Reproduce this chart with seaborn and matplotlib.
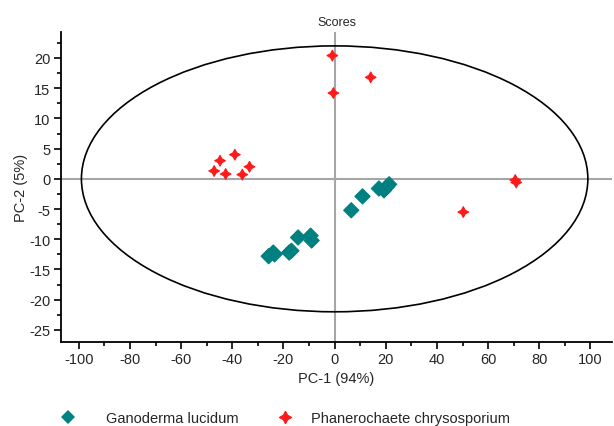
import numpy as np
import pandas as pd
import matplotlib
matplotlib.use("Agg")
import matplotlib.pyplot as plt
from matplotlib.patches import Ellipse
from matplotlib.lines import Line2D
import seaborn as sns

groups = ["Ganoderma lucidum", "Phanerochaete chrysosporium"]

gl_pc1 = [6.5, 10.9, 17.3, 19.3, 21.3, 20.5, -14.3, -9.4, -9.0, -17.8, -16.9, -25.8, -24.0, -23.5]
gl_pc2 = [-5.2, -2.9, -1.6, -1.9, -0.9, -1.3, -9.7, -9.4, -10.2, -12.2, -11.9, -12.8, -12.2, -12.5]

pc_pc1 = [-47.1, -44.8, -42.6, -39.0, -36.1, -33.3, -0.9, 14.1, -0.5, 50.3, 71.0, 70.6]
pc_pc2 = [1.3, 3.0, 0.8, 4.0, 0.7, 2.0, 20.4, 16.8, 14.2, -5.5, -0.6, -0.2]

xticks = [-100, -80, -60, -40, -20, 0, 20, 40, 60, 80, 100]
yticks = [-25, -20, -15, -10, -5, 0, 5, 10, 15, 20]

df = pd.DataFrame({
    "PC1": gl_pc1 + pc_pc1,
    "PC2": gl_pc2 + pc_pc2,
    "group": [groups[0]] * len(gl_pc1) + [groups[1]] * len(pc_pc1),
})

sns.set_style("white")
plt.rcParams["font.family"] = ["Liberation Sans", "DejaVu Sans"]
plt.rcParams["axes.unicode_minus"] = False

fig = plt.figure(figsize=(6.14, 4.27), dpi=100)
ax = fig.add_axes([0.0993, 0.1967, 0.8977, 0.726])

ax.axhline(0, color="#a6a6a6", lw=1.5, zorder=0)
ax.axvline(0, color="#a6a6a6", lw=1.5, zorder=0)
ax.add_patch(Ellipse((0, 0), 198, 44, fill=False, ec="black", lw=1.2, zorder=1))

red = "#ff1a1a"
teal = "#008080"
star = (4, 1, 0)
sns.scatterplot(data=df, x="PC1", y="PC2", hue="group", style="group",
                palette={groups[0]: teal, groups[1]: red},
                markers={groups[0]: "D", groups[1]: star},
                s=60, ax=ax, legend=False, zorder=3)
for coll in ax.collections:
    coll.set_edgecolors(coll.get_facecolors())
    coll.set_linewidths(0.8)

ax.set_xlim(-107, 108.5)
ax.set_ylim(-27, 24.3)
ax.set_xticks(xticks)
ax.set_yticks(yticks)
ax.set_xticks(np.arange(-100, 101, 10), minor=True)
ax.set_yticks(np.arange(-25, 24, 2.5), minor=True)
ax.tick_params(which="major", direction="out", length=5, width=1.2, labelsize=10.5, bottom=True, left=True, color="black", pad=2.5)
ax.tick_params(which="minor", direction="out", length=3, width=1.2, bottom=True, left=True, color="black")
for s in ["top", "right"]:
    ax.spines[s].set_visible(False)
for s in ["left", "bottom"]:
    ax.spines[s].set_color("black")
    ax.spines[s].set_linewidth(1.3)

ax.set_xlabel("PC-1 (94%)", fontsize=10.5, labelpad=3)
ax.set_ylabel("PC-2 (5%)", fontsize=10.5)
ax.yaxis.set_label_coords(-0.06, 0.5)
ax.set_title("Scores", fontsize=9, pad=5)

h1 = [Line2D([], [], ls="none", marker="D", color=teal, markersize=7, markeredgewidth=0)]
h2 = [Line2D([], [], ls="none", marker=star, color=red, markersize=9, markeredgewidth=0.8, markeredgecolor=red)]
fig.legend(h1, groups[:1], loc="center left", bbox_to_anchor=(0.077, 0.018),
           frameon=False, fontsize=10.5, handlelength=1, handletextpad=2.1)
fig.legend(h2, groups[1:], loc="center left", bbox_to_anchor=(0.431, 0.018),
           frameon=False, fontsize=10.5, handlelength=1, handletextpad=1.3)

fig.savefig("out.png", dpi=100)
